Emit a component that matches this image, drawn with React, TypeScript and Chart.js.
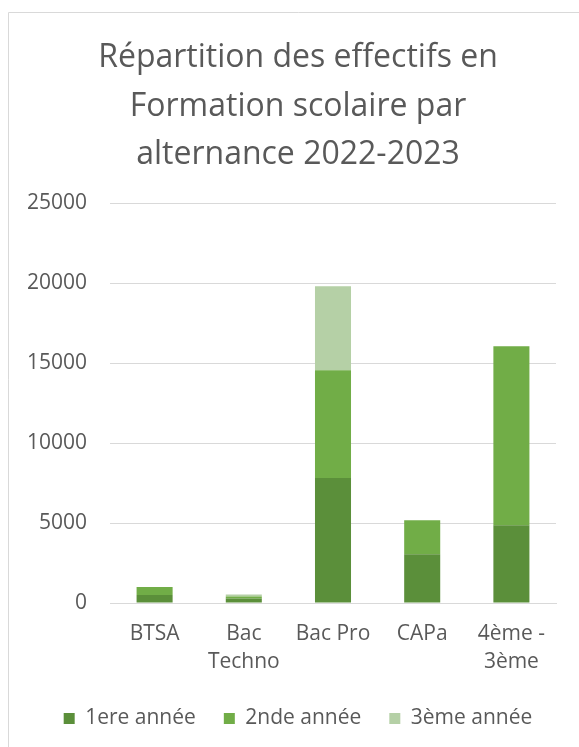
import React, { useEffect, useRef } from "react";
import { Chart, registerables } from "chart.js";

Chart.register(...registerables);

const TITLE_LINES = ["Répartition des effectifs en", "Formation scolaire par", "alternance 2022-2023"];
const CATEGORIES: (string | string[])[] = ["BTSA", ["Bac", "Techno"], "Bac Pro", "CAPa", ["4ème -", "3ème"]];
const SERIES_NAMES = ["1ere année", "2nde année", "3ème année"];
const FIRST_YEAR = [500, 280, 7810, 3040, 4860];
const SECOND_YEAR = [500, 130, 6730, 2130, 11190];
const THIRD_YEAR = [0, 120, 5250, 0, 0];
const COLORS = ["#5b8f3a", "#71ad47", "#b5d0a6"];
const Y_MIN = 0;
const Y_MAX = 25000;
const Y_STEP = 5000;

const FONT = "'Open Sans', 'Liberation Sans', sans-serif";
const TEXT = "#595959";
const GRID = "#d9d9d9";

const borderPlugin = {
  id: "frameBorder",
  beforeDraw(chart: any) {
    const ctx = chart.ctx;
    ctx.save();
    ctx.strokeStyle = GRID;
    ctx.lineWidth = 1;
    ctx.beginPath();
    ctx.moveTo(8.5, chart.height);
    ctx.lineTo(8.5, 12.5);
    ctx.lineTo(chart.width, 12.5);
    ctx.stroke();
    ctx.restore();
  },
};

export default function App() {
  const ref = useRef<HTMLCanvasElement>(null);
  useEffect(() => {
    if (!ref.current) return;
    const chart = new Chart(ref.current, {
      type: "bar",
      data: {
        labels: CATEGORIES,
        datasets: [
          { label: SERIES_NAMES[0], data: FIRST_YEAR, backgroundColor: COLORS[0] },
          { label: SERIES_NAMES[1], data: SECOND_YEAR, backgroundColor: COLORS[1] },
          { label: SERIES_NAMES[2], data: THIRD_YEAR, backgroundColor: COLORS[2] },
        ],
      },
      options: {
        responsive: false,
        animation: false,
        devicePixelRatio: 1,
        datasets: { bar: { categoryPercentage: 1, barPercentage: 0.404, borderWidth: 0 } },
        layout: { padding: { left: 8, right: 0, top: 12, bottom: 8 } },
        plugins: {
          title: {
            display: true,
            text: TITLE_LINES,
            color: TEXT,
            font: { family: FONT, size: 32, weight: "normal", lineHeight: 48.5 / 32 },
            padding: { top: 22, bottom: 23.5 },
          },
          legend: {
            position: "bottom",
            labels: {
              color: TEXT,
              font: { family: FONT, size: 21 },
              boxWidth: 11,
              boxHeight: 11,
              padding: 28,
            },
          },
          tooltip: { enabled: false },
        },
        scales: {
          x: {
            stacked: true,
            grid: { display: false, drawTicks: false },
            border: { display: true, color: GRID, width: 1 },
            ticks: {
              color: TEXT,
              font: { family: FONT, size: 21, lineHeight: 28 / 21 },
              padding: 17.5,
              autoSkip: false,
              maxRotation: 0,
            },
            afterFit(scale: any) {
              scale.height = scale.height - 14;
            },
          },
          y: {
            stacked: true,
            min: Y_MIN,
            max: Y_MAX,
            grid: { color: GRID, drawTicks: false, lineWidth: 1 },
            border: { display: false },
            ticks: {
              stepSize: Y_STEP,
              color: TEXT,
              font: { family: FONT, size: 21 },
              padding: 23,
              callback: (v: any) => String(v),
            },
            afterFit(scale: any) {
              scale.width = 102;
            },
          },
          yRight: {
            position: "right",
            display: true,
            min: Y_MIN,
            max: Y_MAX,
            grid: { display: false, drawTicks: false },
            border: { display: false },
            ticks: { display: false },
            afterFit(scale: any) {
              scale.width = 32;
            },
          },
        },
      },
      plugins: [borderPlugin],
    });
    return () => chart.destroy();
  }, []);
  return (
    <div style={{ position: "fixed", left: 0, top: 0, width: 579, height: 747, overflow: "hidden", background: "#fff" }}>
      <canvas ref={ref} width={588} height={747} style={{ display: "block" }} />
    </div>
  );
}
